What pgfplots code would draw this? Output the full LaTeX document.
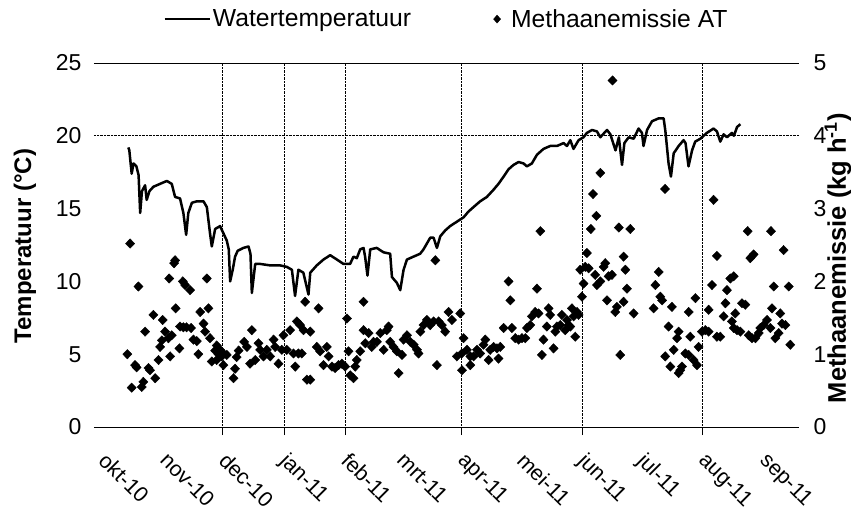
\documentclass[border=0pt]{standalone}
\usepackage{pgfplots}
\pgfplotsset{compat=1.18}
\usepackage{fontspec}
\setmainfont{Liberation Sans}

\newcommand{\fs}{\fontsize{23}{26}\selectfont}
\newcommand{\fm}{\fontsize{21.5}{24}\selectfont}
\newcommand{\fl}{\fontsize{24}{27}\selectfont}

% Water temperature (degrees C), x = days since 1 Oct 2010
\pgfplotstableread{
d t
13.1 19.2
13.6 19.0
14.8 17.4
15.7 18.1
17.2 17.9
18.3 17.3
19.1 14.7
20.0 16.2
21.6 16.6
22.4 15.6
23.8 16.2
25.8 16.5
29.2 16.7
32.6 16.9
35.1 16.7
36.8 15.8
39.3 15.7
41.0 14.7
42.4 13.2
43.5 14.7
45.3 15.4
47.8 15.5
51.2 15.5
52.9 15.1
54.5 13.3
55.4 12.4
57.1 13.6
59.6 13.8
61.3 13.3
63.0 12.8
64.0 12.2
64.7 10.0
66.0 10.8
67.2 11.7
68.5 12.1
71.4 12.3
74.0 12.4
75.0 11.9
75.7 9.2
77.4 11.2
79.9 11.2
85.0 11.1
90.0 11.1
93.4 11.0
96.0 10.8
97.6 9.0
99.3 10.8
101.8 10.6
104.4 9.1
105.3 10.6
108.6 11.1
112.0 11.5
115.4 11.8
118.8 11.5
122.1 11.2
125.5 11.2
127.2 11.7
128.9 11.6
130.6 12.2
132.3 12.3
133.1 11.7
134.3 10.4
135.7 12.2
139.0 12.3
142.4 12.0
145.8 11.9
146.7 10.3
149.2 9.9
150.9 9.4
152.6 10.8
154.3 11.5
157.6 11.7
161.0 11.9
162.7 12.2
164.4 12.6
166.1 13.0
167.8 13.0
169.5 12.3
171.2 13.1
173.7 13.5
176.2 13.8
179.6 14.1
183.0 14.4
185.5 14.8
188.0 15.1
191.4 15.5
194.8 15.8
198.2 16.3
200.7 16.7
203.3 17.2
205.8 17.7
208.3 18.0
210.9 18.2
213.4 18.1
215.1 17.9
217.6 18.1
220.2 18.7
223.5 19.1
226.9 19.3
230.3 19.3
233.7 19.5
235.4 19.3
237.1 19.7
238.7 19.1
241.3 19.7
243.8 19.9
245.5 20.2
248.1 20.4
250.6 20.3
252.3 19.9
255.7 20.4
257.4 20.1
260.0 19.0
261.7 19.9
263.3 18.0
264.5 19.5
266.7 19.9
269.2 19.8
271.7 20.5
273.4 20.2
274.2 19.3
276.0 20.4
278.5 21.0
281.9 21.2
284.4 21.2
285.3 20.3
286.9 18.1
288.1 17.2
289.5 18.8
292.0 19.3
294.5 19.7
295.5 19.5
297.0 17.9
298.8 19.0
300.4 19.6
303.0 19.8
306.3 20.2
309.7 20.5
311.4 20.3
313.1 19.6
314.8 20.1
316.5 19.9
319.0 20.2
320.0 20.0
321.6 20.6
323.3 20.8
}\temptable

% Methane emission (kg/h), x = days since 1 Oct 2010
\pgfplotstableread{
d e
12.6 1.00
14.0 2.52
14.8 0.54
16.5 0.85
17.3 0.82
18.2 1.93
19.9 0.55
20.7 0.62
21.6 1.31
23.3 0.81
24.1 0.78
25.8 1.54
26.7 0.67
28.4 0.92
29.2 1.10
30.1 1.19
30.5 1.47
31.7 1.31
33.4 1.22
33.8 2.04
34.3 0.97
35.1 1.26
36.3 2.25
36.8 2.29
37.1 1.63
39.0 1.08
39.3 1.38
40.7 2.00
41.0 1.37
41.9 1.95
42.6 1.37
44.4 1.88
44.9 1.36
46.1 1.20
47.8 1.18
48.6 1.00
49.5 1.58
51.2 1.42
52.0 1.31
52.9 2.04
53.7 1.63
54.5 1.22
55.4 0.90
57.1 1.05
57.9 1.12
57.9 0.92
58.8 1.00
59.6 1.06
60.4 0.97
61.3 1.01
61.3 0.85
63.0 0.99
66.4 0.67
67.2 0.80
68.0 0.96
69.0 1.05
71.8 1.17
73.2 1.10
74.8 0.87
75.7 1.33
77.4 0.92
79.1 1.15
79.9 1.06
81.6 0.97
83.3 1.06
85.0 0.97
86.7 1.20
87.5 1.10
89.2 0.87
90.9 1.06
91.7 1.26
93.4 1.06
95.1 1.33
96.8 1.01
97.7 0.83
98.5 1.45
99.3 1.01
100.2 1.40
101.0 1.01
101.9 1.33
102.7 1.72
103.6 0.65
105.3 0.65
105.3 1.31
108.6 1.10
109.5 1.63
110.3 1.04
112.0 0.85
113.7 1.10
114.6 0.97
116.3 0.83
117.9 0.81
119.6 0.85
121.3 0.87
123.0 0.83
123.9 1.49
124.7 1.04
125.6 0.71
127.2 0.67
128.1 0.83
128.9 0.92
130.6 1.04
132.3 1.72
132.3 1.33
133.2 1.15
134.9 1.29
136.5 1.10
137.4 1.17
139.1 1.17
140.8 1.29
142.5 1.06
144.1 1.33
145.0 1.38
145.8 1.17
147.5 1.10
149.2 1.04
150.1 0.74
151.8 0.99
152.6 1.20
154.3 1.26
156.0 1.17
157.7 1.13
159.4 1.06
160.2 1.01
161.1 1.31
162.7 1.40
164.4 1.47
166.1 1.40
167.8 1.45
168.7 2.29
169.5 0.85
170.4 1.45
172.0 1.40
173.7 1.31
175.4 1.58
177.1 1.47
179.6 0.97
181.3 1.56
182.1 1.01
182.2 0.78
183.0 1.22
184.7 1.06
186.4 0.97
186.4 0.85
188.1 0.97
189.8 1.06
191.4 1.01
193.1 1.13
194.0 1.20
195.7 0.92
196.5 1.06
198.2 1.10
199.9 1.08
200.7 0.94
201.6 1.10
203.3 1.36
205.8 2.00
206.7 1.74
207.5 1.36
209.2 1.22
210.9 1.20
212.6 1.22
214.3 1.22
215.1 1.36
216.8 1.40
217.6 1.52
219.3 1.58
220.2 1.90
221.0 1.56
221.9 2.69
222.7 0.99
223.5 1.20
225.2 1.38
226.1 1.63
226.9 1.54
228.6 1.08
229.5 1.31
230.3 1.38
232.0 1.40
232.8 1.54
234.5 1.33
235.4 1.47
236.2 1.40
237.1 1.38
237.9 1.63
238.8 1.52
239.6 1.24
240.5 1.58
241.3 1.54
242.1 2.16
243.0 1.79
243.8 1.97
244.7 2.20
245.5 2.39
246.4 2.18
247.5 2.72
248.6 3.20
249.7 2.09
250.3 2.90
250.6 1.95
252.3 2.00
252.3 3.49
254.0 2.20
254.8 2.25
255.7 1.74
256.5 2.07
258.2 2.09
258.5 4.76
259.9 1.58
260.7 1.65
261.7 2.74
262.4 0.99
264.1 1.72
264.1 2.34
265.0 2.16
265.8 1.90
267.5 2.72
269.2 1.56
279.3 1.63
280.2 1.95
281.9 2.13
282.7 1.79
283.6 1.74
285.1 3.27
285.2 0.97
286.9 1.38
287.8 0.83
288.6 1.65
289.5 1.06
291.2 1.22
292.0 1.31
292.0 0.74
292.8 0.78
293.7 0.83
295.4 1.01
297.1 0.99
297.1 1.58
297.9 1.24
299.6 0.92
300.5 1.77
301.3 0.85
302.1 1.10
303.8 1.31
305.5 1.33
307.2 1.31
307.2 1.61
308.9 1.95
309.7 3.12
311.4 1.24
311.4 2.35
313.1 1.24
314.8 1.52
315.7 1.70
316.5 1.88
318.2 2.04
319.0 1.45
319.9 2.07
319.9 1.36
320.7 1.56
321.6 1.33
323.3 1.31
324.1 1.70
325.8 1.68
327.0 2.69
327.5 1.26
328.3 2.32
329.2 1.22
330.0 2.37
330.9 1.22
332.6 1.29
333.4 1.36
335.1 1.40
336.8 1.47
338.5 1.36
338.8 2.69
339.3 1.63
340.2 1.93
341.0 1.22
342.7 1.29
343.5 1.56
344.4 1.42
345.2 2.43
346.1 1.40
347.8 1.93
348.6 1.13
}\emtable

\begin{document}
\begin{tikzpicture}
\pgfplotsset{
  common/.style={
    at={(0pt,0pt)}, anchor=south west,
    scale only axis, width=705pt, height=364pt,
    xmin=-4.3, xmax=353,
    /pgf/number format/assume math mode=true,
    tick label style={font=\fs},
  }
}
\begin{axis}[common,
  ymin=0, ymax=25, ytick={0,5,...,25},
  separate axis lines,
  y axis line style={draw=none},
  x axis line style={line width=1pt},
  ytick style={draw=none},
  ytick pos=left,
  yticklabel style={xshift=-1pt},
  xtick={61,92,123,182,243,304}, xticklabels={}, xtick pos=bottom,
  tick align=outside, major tick length=8pt,
  xtick style={line width=0.8pt, black},
  xmajorgrids,
  grid style={densely dotted, line width=0.8pt, black},
  extra x ticks={0,31,61,92,123,151,182,212,243,273,304,335},
  extra x tick labels={okt-10,nov-10,dec-10,jan-11,feb-11,mrt-11,apr-11,mei-11,jun-11,jul-11,aug-11,sep-11},
  extra x tick style={grid=none, major tick length=0pt,
    xticklabel style={font=\fm, xshift=6pt, yshift=-19pt, rotate=-45, anchor=north west}},
  extra y ticks={20}, extra y tick labels={},
  extra y tick style={grid=major},
  every axis y label/.style={at={(axis description cs:-0.098,0.497)}, rotate=90, anchor=center, font=\fl\bfseries},
  ylabel={Temperatuur (°C)},
  legend columns=2,
  legend style={draw=none, fill=none, font=\fontsize{24.7}{27}\selectfont,
    at={(axis description cs:0.5,1)}, anchor=south, yshift=30pt, xshift=0pt,
    /tikz/every even column/.append style={column sep=78pt}},
]
\addplot[black, line width=2.5pt, line join=round,
  legend image code/.code={\draw[black, line width=2.5pt] (0pt,0pt) -- (45pt,0pt);}]
  table[x=d, y=t] {\temptable};
\addlegendentry{Watertemperatuur}
\addlegendimage{legend image code/.code={%
  \fill[black] (6pt,4pt) -- (9.5pt,0pt) -- (6pt,-4pt) -- (2.5pt,0pt) -- cycle;
  \path[draw=none] (0pt,0pt) -- (18pt,0pt);}}
\addlegendentry{Methaanemissie AT}
\end{axis}

\begin{axis}[common,
  ymin=0, ymax=5, ytick={0,1,...,5},
  axis y line*=right, axis x line=none,
  y axis line style={draw=none},
  ytick style={draw=none},
  yticklabel style={xshift=11pt},
  every axis y label/.style={at={(axis description cs:1.0553,0.464)}, rotate=90, anchor=center, font=\fontsize{25.5}{28}\selectfont\bfseries},
  ylabel={Methaanemissie (kg h\textsuperscript{-1})},
]
\addplot[only marks, mark=diamond*, black, mark size=4.7pt, mark options={xscale=1.3}]
  table[x=d, y=e] {\emtable};
\end{axis}

\pgfresetboundingbox
\path[use as bounding box] (-94pt,-85pt) rectangle (757pt,427pt);
\end{tikzpicture}
\end{document}
